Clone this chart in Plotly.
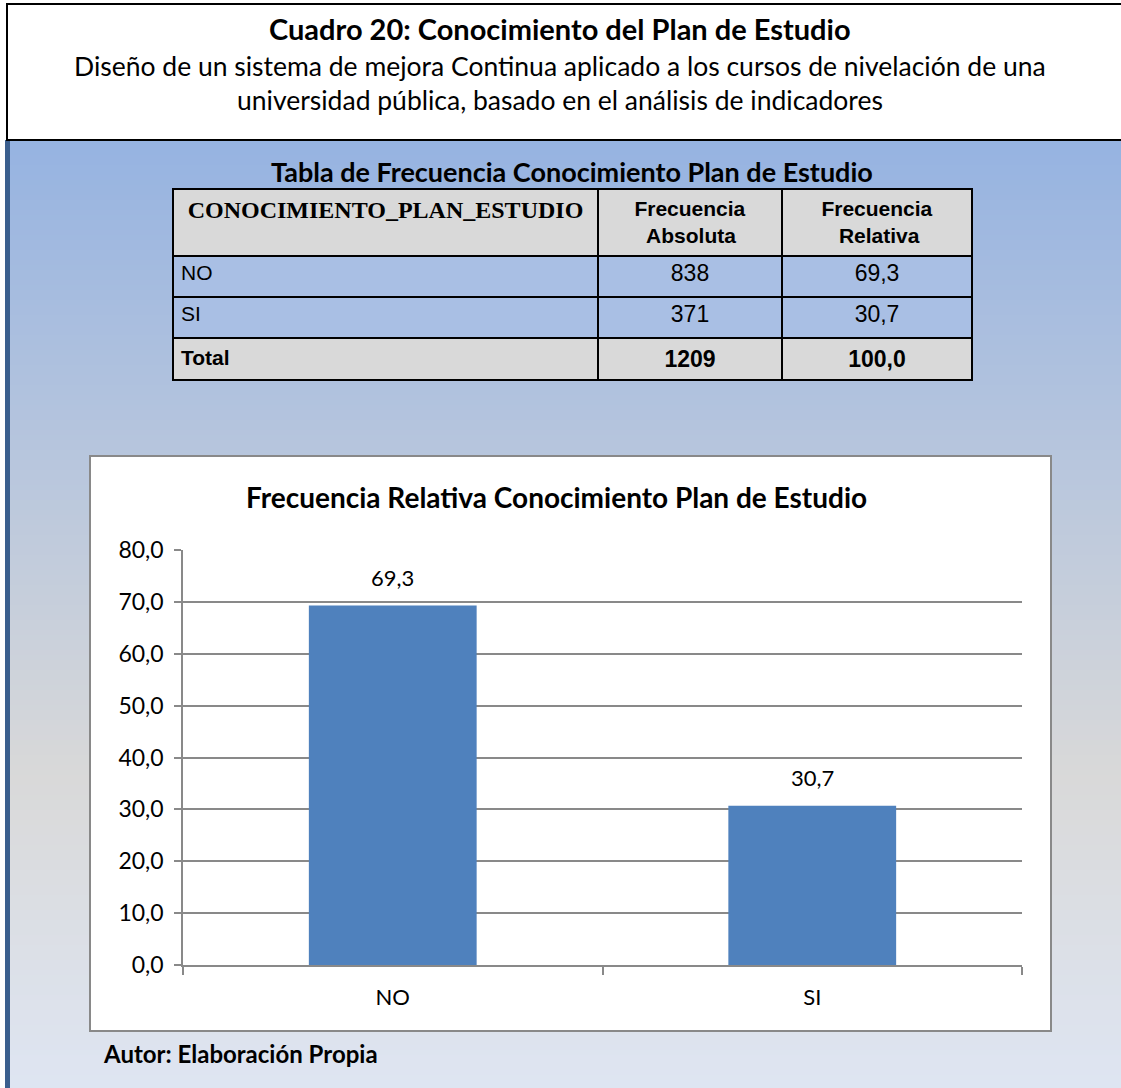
import plotly.graph_objects as go

# ---------------- data ----------------
categories = ["NO", "SI"]
abs_freq = [838, 371]
rel_freq = [69.3, 30.7]
total_abs = 1209
total_rel = 100.0
y_ticks = [0, 10, 20, 30, 40, 50, 60, 70, 80]

header_title = "Cuadro 20: Conocimiento del Plan de Estudio"
header_sub1 = "Diseño de un sistema de mejora Continua aplicado a los cursos de nivelación de una"
header_sub2 = "universidad pública, basado en el análisis de indicadores"
table_title = "Tabla de Frecuencia Conocimiento Plan de Estudio"
NB = "\u00a0"
table_cols = ["CONOCIMIENTO_PLAN_ESTUDIO",
              f"Frecuencia<br>{NB * 2}Absoluta",
              f"Frecuencia<br>{NB * 3}Relativa"]
chart_title = "Frecuencia Relativa Conocimiento Plan de Estudio"
author = "Autor: Elaboración Propia"

W, H = 1121, 1088


def px(x):
    return x / W


def py(y):
    return 1 - y / H


def fmt(v):
    return f"{v:.1f}".replace(".", ",")


FONT = "Lato"

shapes = []
# gradient background (overlapping stripes)
stops = [(140, (0x96, 0xB3, 0xE1)), (780, (0xD9, 0xD9, 0xD9)), (1088, (0xDE, 0xE5, 0xF2))]


def col_at(y):
    for (y0, c0), (y1, c1) in zip(stops[:-1], stops[1:]):
        if y0 <= y <= y1:
            t = (y - y0) / (y1 - y0)
            return tuple(round(a + (b - a) * t) for a, b in zip(c0, c1))
    return stops[-1][1]


step = 5
y = 140
while y < H:
    c = col_at(y + step / 2)
    shapes.append(dict(type="rect", xref="paper", yref="paper", layer="below",
                       x0=px(5), x1=px(W), y0=py(min(y + step + 2, H)), y1=py(y),
                       fillcolor=f"rgb{c}", line=dict(width=0)))
    y += step
# left dark stripe
shapes.append(dict(type="rect", xref="paper", yref="paper", layer="below",
                   x0=px(5), x1=px(10), y0=py(H), y1=py(140),
                   fillcolor="#3B5F8E", line=dict(width=0)))
# header box
shapes.append(dict(type="rect", xref="paper", yref="paper", layer="below",
                   x0=px(7), x1=px(W + 10), y0=py(140), y1=py(4),
                   fillcolor="white", line=dict(color="black", width=2)))
# chart box
shapes.append(dict(type="rect", xref="paper", yref="paper", layer="below",
                   x0=px(90), x1=px(1051), y0=py(1031), y1=py(456),
                   fillcolor="white", line=dict(color="#898989", width=2)))

fig = go.Figure()

# table
row_fill = ["#A9BFE4", "#A9BFE4", "#D9D9D9"]
fig.add_trace(go.Table(
    domain=dict(x=[px(173), px(972)], y=[py(384), py(189)]),
    columnwidth=[425, 184, 190],
    header=dict(
        values=[f"<b>{c}</b>" for c in table_cols],
        fill_color="#D9D9D9",
        line=dict(color="black", width=2),
        align="center",
        height=67,
        font=dict(family=["Liberation Serif", "Liberation Sans", "Liberation Sans"],
                  size=[24, 21, 21], color="black"),
    ),
    cells=dict(
        values=[categories + ["<b>Total</b>"],
                [str(v) for v in abs_freq] + [f"<b>{total_abs}</b>"],
                [fmt(v) for v in rel_freq] + [f"<b>{fmt(total_rel)}</b>"]],
        fill_color=[row_fill, row_fill, row_fill],
        line=dict(color="black", width=2),
        align=["left", "center", "center"],
        height=41,
        font=dict(family="Liberation Sans", size=[21, 23, 23], color="black"),
    ),
))

# bar chart
fig.add_trace(go.Bar(
    x=categories, y=rel_freq, width=0.4,
    marker=dict(color="#4F81BD", line=dict(width=0)),
    hoverinfo="x+y",
))

annotations = []
for c, v in zip(categories, rel_freq):
    annotations.append(dict(x=c, y=v, xref="x", yref="y", text=fmt(v), showarrow=False,
                            xanchor="center", yanchor="middle", yshift=28,
                            font=dict(family=FONT, size=22, color="black")))


def label(x, y, text, size, bold=False, xanchor="center"):
    return dict(x=px(x), y=py(y), xref="paper", yref="paper",
                text=f"<b>{text}</b>" if bold else text, showarrow=False,
                xanchor=xanchor, yanchor="middle",
                font=dict(family=FONT, size=size, color="black"))


annotations += [
    label(560, 29, header_title, 29, bold=True),
    label(560, 66, header_sub1, 26.5),
    label(560, 100, header_sub2, 26.5),
    label(572, 171, table_title, 27, bold=True),
    label(556, 497, chart_title, 28, bold=True),
    label(101, 1053, author, 24, bold=True, xanchor="left"),
]

fig.update_layout(
    width=W, height=H,
    margin=dict(l=0, r=0, t=0, b=0, pad=0, autoexpand=False),
    paper_bgcolor="white", plot_bgcolor="rgba(0,0,0,0)",
    separators=",.",
    showlegend=False,
    shapes=shapes,
    annotations=annotations,
    xaxis=dict(domain=[px(183), px(1022)], showgrid=False, tickson="boundaries",
               ticks="outside", ticklen=8, tickcolor="#898989", tickwidth=1.5,
               showline=True, linecolor="#898989", linewidth=1.5,
               tickfont=dict(family=FONT, size=22, color="black"), ticklabelstandoff=12,
               automargin=False, fixedrange=True),
    yaxis=dict(domain=[py(965), py(550)], range=[0, 80], tickvals=y_ticks,
               tickformat=".1f", showgrid=True, gridcolor="#898989", gridwidth=1.5,
               ticks="outside", ticklen=7, tickcolor="#898989", tickwidth=1.5,
               showline=True, linecolor="#898989", linewidth=1.5, zeroline=False,
               tickfont=dict(family=FONT, size=23, color="black"), ticklabelstandoff=6,
               automargin=False, fixedrange=True),
)

fig.write_html("out.html", config={"displayModeBar": False},
               post_script="document.body.style.margin='0';document.body.style.overflow='hidden';")
